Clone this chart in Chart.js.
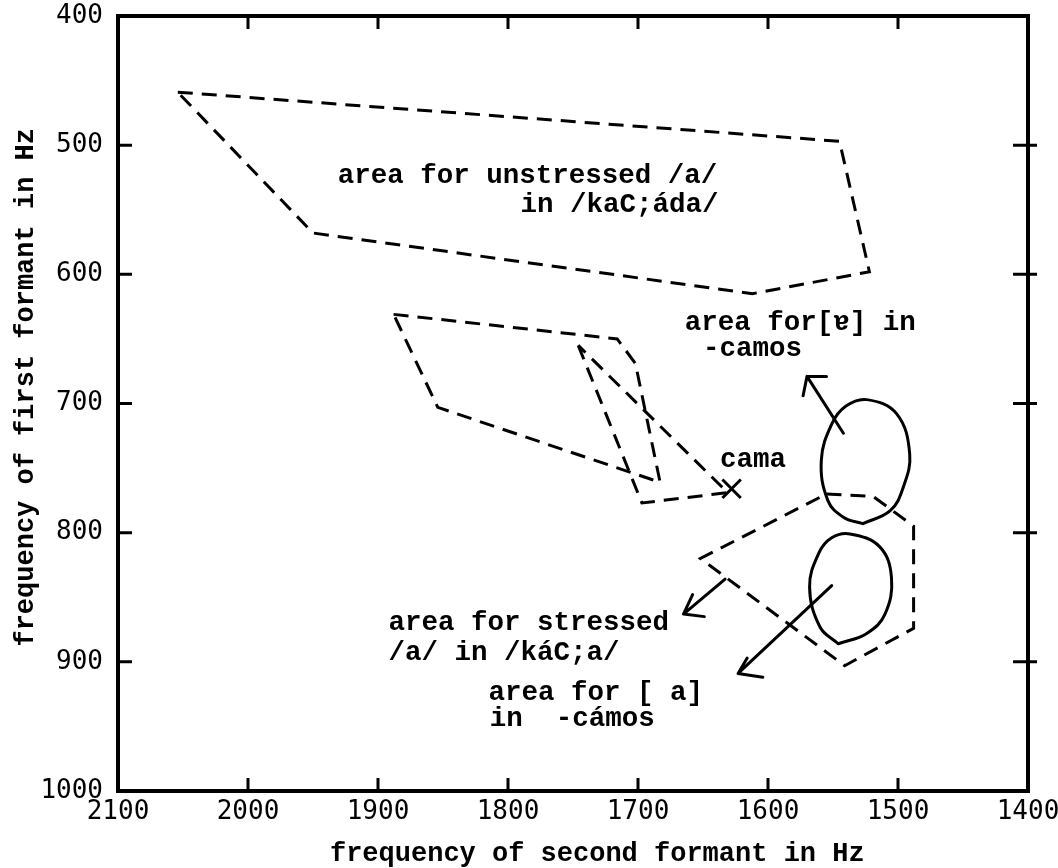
<!DOCTYPE html>
<html>
<head>
<meta charset="utf-8">
<title>F1 x F2</title>
<script src="https://cdn.jsdelivr.net/npm/chart.js@4.4.1/dist/chart.umd.min.js"></script>
<style>
  html, body { margin: 0; padding: 0; background: #fff; }
  #wrap { width: 1058px; height: 868px; }
</style>
</head>
<body>
<div id="wrap"><canvas id="formantChart"></canvas></div>
<script>
// ==========================================
// DATA (Hz) - F2 on x, F1 on y
// ==========================================
const unstressedF2 = [2054, 1545, 1522, 1612, 1950, 2054];
const unstressedF1 = [459, 497, 598, 615, 568, 459];

const leftBoxF2 = [1888, 1716, 1702, 1683, 1854, 1888];
const leftBoxF1 = [631, 650, 669, 761, 703, 631];

const triangleF2 = [1746, 1697, 1631, 1746];
const triangleF1 = [655, 777, 769, 655];

const stressedF2 = [1555, 1519, 1488, 1488, 1541, 1652, 1555];
const stressedF1 = [770, 772, 795, 874, 903, 820, 770];

const camaF2 = [1628];
const camaF1 = [766];

// hand drawn ovals
const upperOvalF2 = [1527, 1542, 1554, 1559, 1551, 1540, 1524, 1501, 1491, 1496, 1506, 1527];
const upperOvalF1 = [793, 788, 775, 744, 716, 702, 697, 708, 739, 765, 783, 793];

const lowerOvalF2 = [1546, 1560, 1568, 1561, 1551, 1537, 1514, 1505, 1510, 1524, 1546];
const lowerOvalF1 = [886, 873, 842, 816, 804, 801, 811, 835, 863, 878, 886];

// arrows: head end, tip, other head end, tip, tail
const arrowUpF2 = [1555, 1570, 1573, 1570, 1542];
const arrowUpF1 = [679, 679, 694, 679, 723];

const arrowLowF2 = [1604, 1623, 1616, 1623, 1551];
const arrowLowF1 = [912, 909, 897, 909, 841];

const arrowStressF2 = [1649, 1665, 1658, 1665, 1633];
const arrowStressF1 = [865, 863, 848, 863, 836];

// text notes, anchored in data units
const notes = [
  { text: 'area for unstressed /a/', f2: 1931, f1: 524, align: 'left' },
  { text: 'in /kaC;áda/', f2: 1638, f1: 546, align: 'right' },
  { text: 'area for[ɐ] in', f2: 1664, f1: 638, align: 'left' },
  { text: '-camos', f2: 1650, f1: 658, align: 'left' },
  { text: 'cama', f2: 1637, f1: 744, align: 'left' },
  { text: 'area for stressed', f2: 1892, f1: 870, align: 'left' },
  { text: '/a/ in /káC;a/', f2: 1892, f1: 893, align: 'left' },
  { text: 'area for [ a]', f2: 1815, f1: 924, align: 'left' },
  { text: 'in  -cámos', f2: 1814, f1: 944, align: 'left' }
];

const pts = (xs, ys) => xs.map((v, i) => ({ x: v, y: ys[i] }));

function dashed(label, xs, ys) {
  return {
    label, data: pts(xs, ys), showLine: true, fill: false,
    borderColor: '#000', borderWidth: 3, borderDash: [15, 9],
    pointRadius: 0, tension: 0
  };
}

function solid(label, xs, ys, tension) {
  return {
    label, data: pts(xs, ys), showLine: true, fill: false,
    borderColor: '#000', borderWidth: 3, borderJoinStyle: 'round', borderCapStyle: 'round',
    pointRadius: 0, tension: tension
  };
}

// ==========================================
// PLUGINS: white background, frame + inner ticks, notes
// ==========================================
const paperPlugin = {
  id: 'paper',
  beforeDraw(chart) {
    const ctx = chart.ctx;
    ctx.save();
    ctx.fillStyle = '#fff';
    ctx.fillRect(0, 0, chart.width, chart.height);
    ctx.restore();
  },
  afterDraw(chart) {
    const { ctx, chartArea: a, scales } = chart;
    const x = scales.x, y = scales.y;
    ctx.save();
    ctx.strokeStyle = '#000';
    ctx.lineWidth = 4;
    ctx.strokeRect(a.left, a.top, a.right - a.left, a.bottom - a.top);

    ctx.lineWidth = 3;
    ctx.beginPath();
    x.ticks.forEach(t => {
      if (t.value === x.min || t.value === x.max) return;
      const px = x.getPixelForValue(t.value);
      ctx.moveTo(px, a.top); ctx.lineTo(px, a.top + 13);
      ctx.moveTo(px, a.bottom); ctx.lineTo(px, a.bottom - 13);
    });
    y.ticks.forEach(t => {
      if (t.value === y.min || t.value === y.max) return;
      const py = y.getPixelForValue(t.value);
      ctx.moveTo(a.left, py); ctx.lineTo(a.left + 14, py);
      ctx.moveTo(a.right - 15, py); ctx.lineTo(a.right + 9, py);
    });
    ctx.stroke();

    ctx.fillStyle = '#000';
    ctx.font = 'bold 27.5px "Liberation Mono", monospace';
    ctx.textBaseline = 'middle';
    notes.forEach(n => {
      ctx.textAlign = n.align;
      ctx.fillText(n.text, x.getPixelForValue(n.f2), y.getPixelForValue(n.f1));
    });
    ctx.restore();
  }
};

// scale boxes get a fixed size, and no extra room for overhanging labels
function fixBox(w, h) {
  return s => {
    if (w) s.width = w;
    if (h) s.height = h;
    s.paddingTop = 0; s.paddingBottom = 0;
    s.paddingLeft = 0; s.paddingRight = 0;
  };
}

const tickFont = { family: '"DejaVu Sans Mono", monospace', size: 26, lineHeight: 1 };
const titleFont = { family: '"Liberation Mono", monospace', size: 27, weight: 'bold', lineHeight: 1 };

new Chart(document.getElementById('formantChart'), {
  type: 'scatter',
  data: {
    datasets: [
      dashed('unstressed /a/', unstressedF2, unstressedF1),
      dashed('left area', leftBoxF2, leftBoxF1),
      dashed('triangle', triangleF2, triangleF1),
      dashed('stressed /a/', stressedF2, stressedF1),
      solid('[ɐ] in -camos', upperOvalF2, upperOvalF1, 0.4),
      solid('[a] in -cámos', lowerOvalF2, lowerOvalF1, 0.4),
      solid('arrow 1', arrowUpF2, arrowUpF1, 0),
      solid('arrow 2', arrowLowF2, arrowLowF1, 0),
      solid('arrow 3', arrowStressF2, arrowStressF1, 0),
      {
        label: 'cama', data: pts(camaF2, camaF1), showLine: false,
        pointStyle: 'crossRot', pointRadius: 13, pointBorderWidth: 3,
        borderColor: '#000', backgroundColor: '#000'
      }
    ]
  },
  options: {
    responsive: true,
    maintainAspectRatio: false,
    animation: false,
    layout: { padding: { top: 14, right: 30, left: 0, bottom: 0 } },
    plugins: { legend: { display: false }, tooltip: { enabled: false } },
    scales: {
      x: {
        type: 'linear', reverse: true, min: 1400, max: 2100,
        ticks: { stepSize: 100, padding: 8, color: '#000', font: tickFont, maxRotation: 0, callback: v => String(v) },
        grid: { display: false, drawTicks: false },
        border: { display: false },
        title: { display: true, text: '   frequency of second formant in Hz', color: '#000', font: titleFont, padding: { top: 0, bottom: 0 } },
        afterFit: fixBox(0, 77)
      },
      y: {
        type: 'linear', reverse: true, min: 400, max: 1000,
        ticks: { stepSize: 100, padding: 15, color: '#000', font: tickFont, callback: v => String(v) },
        grid: { display: false, drawTicks: false },
        border: { display: false },
        title: { display: true, text: '  frequency of first formant in Hz', color: '#000', font: titleFont, padding: { top: 13, bottom: 0 } },
        afterFit: fixBox(118, 0)
      }
    }
  },
  plugins: [paperPlugin]
});
</script>
</body>
</html>
